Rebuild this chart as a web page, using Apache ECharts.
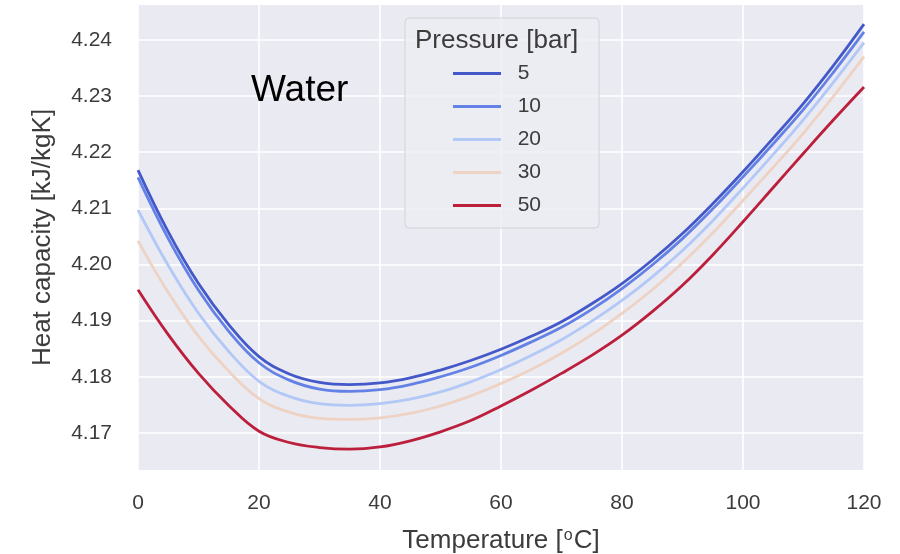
<!DOCTYPE html>
<html>
<head>
<meta charset="utf-8">
<script src="https://cdn.jsdelivr.net/npm/echarts@6/dist/echarts.min.js"></script>
<style>
html,body{margin:0;padding:0;background:#ffffff;}
#chart{width:900px;height:554px;}
</style>
</head>
<body>
<div id="chart"></div>
<script>
// ---- data ----
const temperatures = [0, 5, 10, 15, 20, 25, 30, 35, 40, 45, 50, 55, 60, 65, 70, 75, 80, 85, 90, 95, 100, 105, 110, 115, 120];
const pressureNames = ['5', '10', '20', '30', '50'];
const cp5  = [4.2168, 4.2058, 4.1966, 4.1893, 4.1836, 4.1805, 4.1790, 4.1786, 4.1789, 4.1798, 4.1812, 4.1829, 4.1849, 4.1872, 4.1898, 4.1930, 4.1966, 4.2008, 4.2055, 4.2108, 4.2165, 4.2225, 4.2287, 4.2355, 4.2428];
const cp10 = [4.2155, 4.2046, 4.1954, 4.1881, 4.1825, 4.1794, 4.1778, 4.1774, 4.1777, 4.1786, 4.1800, 4.1817, 4.1838, 4.1862, 4.1888, 4.1920, 4.1957, 4.1999, 4.2046, 4.2099, 4.2156, 4.2215, 4.2276, 4.2343, 4.2414];
const cp20 = [4.2097, 4.1998, 4.1913, 4.1845, 4.1792, 4.1765, 4.1752, 4.1749, 4.1752, 4.1760, 4.1773, 4.1791, 4.1813, 4.1838, 4.1866, 4.1899, 4.1936, 4.1978, 4.2025, 4.2078, 4.2136, 4.2196, 4.2258, 4.2325, 4.2395];
const cp30 = [4.2042, 4.1950, 4.1872, 4.1810, 4.1761, 4.1737, 4.1726, 4.1724, 4.1727, 4.1735, 4.1748, 4.1766, 4.1788, 4.1813, 4.1842, 4.1875, 4.1913, 4.1955, 4.2003, 4.2056, 4.2114, 4.2173, 4.2234, 4.2300, 4.2370];
const cp50 = [4.1955, 4.1875, 4.1806, 4.1749, 4.1703, 4.1683, 4.1674, 4.1671, 4.1675, 4.1686, 4.1702, 4.1722, 4.1748, 4.1776, 4.1806, 4.1838, 4.1874, 4.1916, 4.1963, 4.2017, 4.2076, 4.2137, 4.2198, 4.2258, 4.2316];
const yTickValues = [4.17, 4.18, 4.19, 4.20, 4.21, 4.22, 4.23, 4.24];
const xTickValues = [0, 20, 40, 60, 80, 100, 120];

const seriesValues = [cp5, cp10, cp20, cp30, cp50];
const seriesColors = ['#4358c9', '#6482e6', '#b2c8f6', '#eed2c4', '#bb1f3c'];
const FONT = '"Liberation Sans", Arial, sans-serif';
const TXT = '#3c3c3c';

const chart = echarts.init(document.getElementById('chart'), null, {renderer: 'canvas'});

const series = pressureNames.map((name, i) => ({
  name: name,
  type: 'line',
  data: temperatures.map((t, j) => [t, seriesValues[i][j]]),
  smooth: 0.4,
  showSymbol: false,
  symbol: 'none',
  lineStyle: {color: seriesColors[i], width: 2.8},
  itemStyle: {color: seriesColors[i]},
  emphasis: {disabled: true},
  z: 3
}));

chart.setOption({
  animation: false,
  backgroundColor: '#ffffff',
  textStyle: {fontFamily: FONT},
  grid: {
    left: 138, right: 36, top: 5, bottom: 84,
    containLabel: false,
    outerBoundsMode: 'none',
    show: true, backgroundColor: '#eaeaf2', borderWidth: 0
  },
  xAxis: {
    type: 'value',
    min: 0, max: 120,
    axisLine: {show: false},
    axisTick: {show: false, customValues: xTickValues},
    axisLabel: {customValues: xTickValues, color: TXT, fontSize: 21, margin: 23, fontFamily: FONT},
    splitLine: {show: true, lineStyle: {color: '#ffffff', width: 1.6}},
    name: 'Temperature [{sup|o}C]',
    nameLocation: 'middle',
    nameGap: 58,
    nameTextStyle: {
      color: TXT, fontSize: 26, fontFamily: FONT,
      rich: {sup: {fontSize: 16, verticalAlign: 'top', color: TXT, fontFamily: FONT, padding: [0, 1, 10, 1]}}
    }
  },
  yAxis: {
    type: 'value',
    min: 4.1634, max: 4.2462,
    axisLine: {show: false},
    axisTick: {show: false, customValues: yTickValues},
    axisLabel: {
      customValues: yTickValues, color: TXT, fontSize: 21, margin: 26, fontFamily: FONT,
      formatter: v => v.toFixed(2)
    },
    splitLine: {show: true, lineStyle: {color: '#ffffff', width: 1.6}},
    name: 'Heat capacity [kJ/kgK]',
    nameLocation: 'middle',
    nameGap: 82,
    nameTextStyle: {color: TXT, fontSize: 26, fontFamily: FONT}
  },
  legend: {
    data: pressureNames,
    orient: 'vertical',
    left: 405, top: 18,
    padding: [45, 58, 12, 48],
    itemGap: 12,
    itemWidth: 48,
    itemHeight: 3,
    icon: 'rect',
    backgroundColor: 'rgba(236,236,243,0.85)',
    borderColor: '#d2d2d8',
    borderWidth: 1,
    borderRadius: 4,
    formatter: n => '  ' + n,
    textStyle: {color: TXT, fontSize: 21, lineHeight: 21, fontFamily: FONT},
    selectedMode: false
  },
  graphic: [
    {
      type: 'text', left: 415, top: 28, z: 100,
      style: {text: 'Pressure [bar]', fill: TXT, fontSize: 26, fontFamily: FONT}
    },
    {
      type: 'text', left: 251, top: 72, z: 100,
      style: {text: 'Water', fill: '#000000', fontSize: 37, fontFamily: FONT}
    }
  ],
  series: series
});
</script>
</body>
</html>
